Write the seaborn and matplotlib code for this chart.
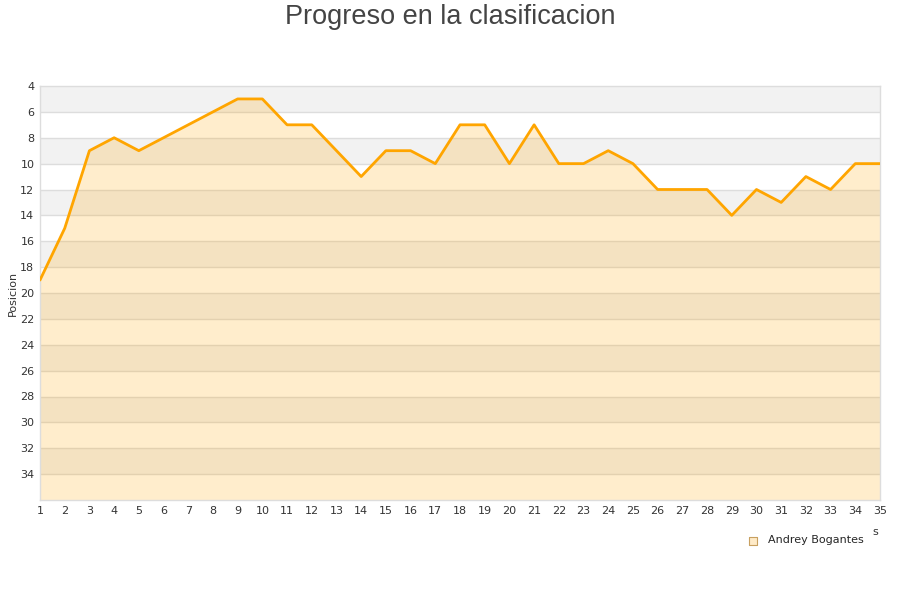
import numpy as np
import pandas as pd
import seaborn as sns
import matplotlib.pyplot as plt

# data: position per round
jornadas = list(range(1, 36))
posicion = [19, 15, 9, 8, 9, 8, 7, 6, 5, 5, 7, 7, 9, 11, 9, 9, 10, 7, 7, 10,
            7, 10, 10, 9, 10, 12, 12, 12, 14, 12, 13, 11, 12, 10, 10]
jugador = "Andrey Bogantes"
y_ticks = list(range(4, 36, 2))

df = pd.DataFrame({"Jornada": jornadas, "Posicion": posicion})

sns.set_style("white")
plt.rcParams['font.family'] = ['DejaVu Sans']

fig = plt.figure(figsize=(9, 6), dpi=100)
ax = fig.add_axes([40/900, 1-500/600, 840/900, 414/600])

# alternating background bands
for i, t in enumerate(y_ticks):
    if i % 2 == 0:
        ax.axhspan(t, t + 2, color="#f2f2f2", zorder=0, lw=0)
for t in y_ticks[1:]:
    ax.axhline(t, color="#dddddd", lw=1, zorder=1)

ax.fill_between(df["Jornada"], df["Posicion"], 36, color="#ffa500", alpha=0.2, lw=0, zorder=2)
sns.lineplot(data=df, x="Jornada", y="Posicion", color="#ffa500", lw=2, ax=ax, zorder=3)

ax.set_xlim(1, 35)
ax.set_ylim(36, 4)
ax.set_xticks(jornadas)
ax.set_yticks(y_ticks)
ax.tick_params(labelsize=8, colors="#333333", length=0, pad=4)
ax.set_xlabel("")
ax.set_ylabel("Posicion", fontsize=8, color="#333333", labelpad=2)
for s in ax.spines.values():
    s.set_color("#dddddd")
    s.set_linewidth(1)

fig.text(0.5, 1-17/600, "Progreso en la clasificacion", ha="center", va="center",
         fontsize=19.5, color="#444444", family=["Liberation Sans", "DejaVu Sans"])

fig.text(875/900, 1-532/600, "s", ha="center", va="center", fontsize=8, color="#333333")

ax.scatter([], [], marker="s", s=30, facecolor="#ffebc8", edgecolor="#c8a060", lw=0.8, label=jugador)
ax.legend(loc="upper right", bbox_to_anchor=(868/900, 1-531/600), bbox_transform=fig.transFigure,
          frameon=False, fontsize=8, handletextpad=0.3, borderaxespad=0)

fig.savefig("out.png", dpi=100)
